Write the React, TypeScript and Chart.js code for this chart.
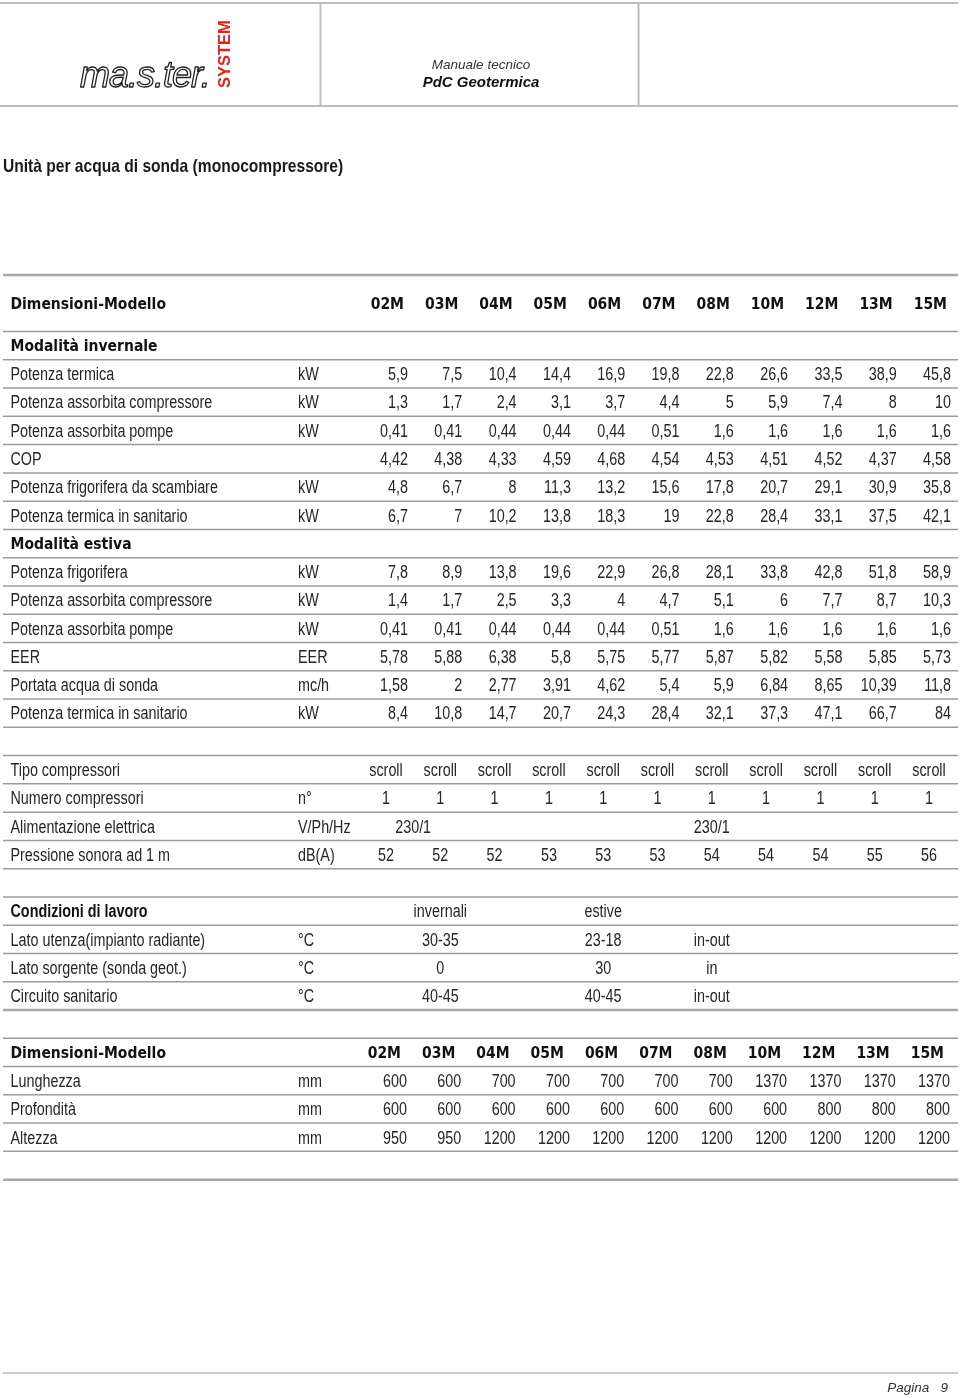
import { useEffect, useRef } from "react";
import { Chart, registerables } from "chart.js";

Chart.register(...registerables);

// ---------------- data ----------------
const TITLE = "Unità per acqua di sonda (monocompressore)";
const MANUAL_LINE_1 = "Manuale tecnico";
const MANUAL_LINE_2 = "PdC Geotermica";
const LOGO_TEXT = "ma.s.ter.";
const LOGO_SUB = "SYSTEM";
const PAGE_LABEL = "Pagina";
const PAGE_NUMBER = 9;

const MODELS = ["02M", "03M", "04M", "05M", "06M", "07M", "08M", "10M", "12M", "13M", "15M"];

const INV_POTENZA_TERMICA = [5.9, 7.5, 10.4, 14.4, 16.9, 19.8, 22.8, 26.6, 33.5, 38.9, 45.8];
const INV_ASSORBITA_COMPRESSORE = [1.3, 1.7, 2.4, 3.1, 3.7, 4.4, 5, 5.9, 7.4, 8, 10];
const INV_ASSORBITA_POMPE = [0.41, 0.41, 0.44, 0.44, 0.44, 0.51, 1.6, 1.6, 1.6, 1.6, 1.6];
const INV_COP = [4.42, 4.38, 4.33, 4.59, 4.68, 4.54, 4.53, 4.51, 4.52, 4.37, 4.58];
const INV_FRIGORIFERA_SCAMBIARE = [4.8, 6.7, 8, 11.3, 13.2, 15.6, 17.8, 20.7, 29.1, 30.9, 35.8];
const INV_TERMICA_SANITARIO = [6.7, 7, 10.2, 13.8, 18.3, 19, 22.8, 28.4, 33.1, 37.5, 42.1];

const EST_POTENZA_FRIGORIFERA = [7.8, 8.9, 13.8, 19.6, 22.9, 26.8, 28.1, 33.8, 42.8, 51.8, 58.9];
const EST_ASSORBITA_COMPRESSORE = [1.4, 1.7, 2.5, 3.3, 4, 4.7, 5.1, 6, 7.7, 8.7, 10.3];
const EST_ASSORBITA_POMPE = [0.41, 0.41, 0.44, 0.44, 0.44, 0.51, 1.6, 1.6, 1.6, 1.6, 1.6];
const EST_EER = [5.78, 5.88, 6.38, 5.8, 5.75, 5.77, 5.87, 5.82, 5.58, 5.85, 5.73];
const EST_PORTATA_SONDA = [1.58, 2, 2.77, 3.91, 4.62, 5.4, 5.9, 6.84, 8.65, 10.39, 11.8];
const EST_TERMICA_SANITARIO = [8.4, 10.8, 14.7, 20.7, 24.3, 28.4, 32.1, 37.3, 47.1, 66.7, 84];

const TIPO_COMPRESSORI = ["scroll", "scroll", "scroll", "scroll", "scroll", "scroll", "scroll", "scroll", "scroll", "scroll", "scroll"];
const NUMERO_COMPRESSORI = [1, 1, 1, 1, 1, 1, 1, 1, 1, 1, 1];
const ALIMENTAZIONE = ["230/1", "230/1"];
const ALIMENTAZIONE_COLS = [0.5, 6];
const PRESSIONE_SONORA = [52, 52, 52, 53, 53, 53, 54, 54, 54, 55, 56];

const CONDIZIONI_HEAD = ["invernali", "estive"];
const CONDIZIONI_HEAD_COLS = [1, 4];
const CONDIZIONI_COLS = [1, 4, 6];
const LATO_UTENZA = ["30-35", "23-18", "in-out"];
const LATO_SORGENTE = ["0", "30", "in"];
const CIRCUITO_SANITARIO = ["40-45", "40-45", "in-out"];

const LUNGHEZZA = [600, 600, 700, 700, 700, 700, 700, 1370, 1370, 1370, 1370];
const PROFONDITA = [600, 600, 600, 600, 600, 600, 600, 600, 800, 800, 800];
const ALTEZZA = [950, 950, 1200, 1200, 1200, 1200, 1200, 1200, 1200, 1200, 1200];

// ---------------- layout constants ----------------
const PAGE_W = 960;
const PAGE_H = 1398;
const ROW_H = 28.27;
const TABLE_TOP = 275; // chart area top
const FOOTER_RULE = 1373; // chart area bottom
const AREA_LEFT = 3;
const AREA_RIGHT = 948;
const COL0 = 386;
const COL_W = 54.3;
const X_MIN = -(COL0 - AREA_LEFT) / COL_W;
const X_MAX = X_MIN + (AREA_RIGHT - AREA_LEFT) / COL_W;
const Y_MAX = (FOOTER_RULE - TABLE_TOP) / ROW_H;
const LABEL_X = 10.5;
const UNIT_X = 298;
const RULE_X0 = 3;
const RULE_X1 = 958;
const TITLE_X = 3;
const TITLE_CY = 165;
const FOOTER_CY = 1388;

type Style = "modelHead" | "section" | "num" | "center" | "condHead" | "cond";
type RowSpec = {
  row: number;
  span?: number;
  label: string;
  unit?: string;
  values?: (number | string)[];
  cols?: number[];
  style: Style;
  off?: number;
};

const ROWS: RowSpec[] = [
  { row: 0, span: 2, label: "Dimensioni-Modello", values: MODELS, style: "modelHead", off: 18 },
  { row: 2, label: "Modalità invernale", style: "section" },
  { row: 3, label: "Potenza termica", unit: "kW", values: INV_POTENZA_TERMICA, style: "num" },
  { row: 4, label: "Potenza assorbita compressore", unit: "kW", values: INV_ASSORBITA_COMPRESSORE, style: "num" },
  { row: 5, label: "Potenza assorbita pompe", unit: "kW", values: INV_ASSORBITA_POMPE, style: "num" },
  { row: 6, label: "COP", values: INV_COP, style: "num" },
  { row: 7, label: "Potenza frigorifera da scambiare", unit: "kW", values: INV_FRIGORIFERA_SCAMBIARE, style: "num" },
  { row: 8, label: "Potenza termica in sanitario", unit: "kW", values: INV_TERMICA_SANITARIO, style: "num" },
  { row: 9, label: "Modalità estiva", style: "section" },
  { row: 10, label: "Potenza frigorifera", unit: "kW", values: EST_POTENZA_FRIGORIFERA, style: "num" },
  { row: 11, label: "Potenza assorbita compressore", unit: "kW", values: EST_ASSORBITA_COMPRESSORE, style: "num" },
  { row: 12, label: "Potenza assorbita pompe", unit: "kW", values: EST_ASSORBITA_POMPE, style: "num" },
  { row: 13, label: "EER", unit: "EER", values: EST_EER, style: "num" },
  { row: 14, label: "Portata acqua di sonda", unit: "mc/h", values: EST_PORTATA_SONDA, style: "num" },
  { row: 15, label: "Potenza termica in sanitario", unit: "kW", values: EST_TERMICA_SANITARIO, style: "num" },

  { row: 17, label: "Tipo compressori", values: TIPO_COMPRESSORI, style: "center" },
  { row: 18, label: "Numero compressori", unit: "n°", values: NUMERO_COMPRESSORI, style: "center" },
  { row: 19, label: "Alimentazione elettrica", unit: "V/Ph/Hz", values: ALIMENTAZIONE, cols: ALIMENTAZIONE_COLS, style: "center" },
  { row: 20, label: "Pressione sonora ad 1 m", unit: "dB(A)", values: PRESSIONE_SONORA, style: "center" },

  { row: 22, label: "Condizioni di lavoro", values: CONDIZIONI_HEAD, cols: CONDIZIONI_HEAD_COLS, style: "condHead" },
  { row: 23, label: "Lato utenza(impianto radiante)", unit: "°C", values: LATO_UTENZA, cols: CONDIZIONI_COLS, style: "cond" },
  { row: 24, label: "Lato sorgente (sonda geot.)", unit: "°C", values: LATO_SORGENTE, cols: CONDIZIONI_COLS, style: "cond" },
  { row: 25, label: "Circuito sanitario", unit: "°C", values: CIRCUITO_SANITARIO, cols: CONDIZIONI_COLS, style: "cond" },

  { row: 27, label: "Dimensioni-Modello", values: MODELS, style: "modelHead", off: 15 },
  { row: 28, label: "Lunghezza", unit: "mm", values: LUNGHEZZA, style: "num", off: 21 },
  { row: 29, label: "Profondità", unit: "mm", values: PROFONDITA, style: "num", off: 21 },
  { row: 30, label: "Altezza", unit: "mm", values: ALTEZZA, style: "num", off: 21 },
];

// rule lines: [row boundary, thick?]
const RULES: [number, boolean][] = [
  [0, true], [2, false], [3, false], [4, false], [5, false], [6, false], [7, false], [8, false],
  [9, false], [10, false], [11, false], [12, false], [13, false], [14, false], [15, false], [16, false],
  [17, false], [18, false], [19, false], [20, false], [21, false],
  [22, false], [23, false], [24, false], [25, false], [26, true],
  [27, false], [28, false], [29, false], [30, false], [31, false], [32, true],
];

// ---------------- helpers ----------------
type FontSpec = { css: string; squeeze: number; cap: number; color: string };

function hasFont(name: string): boolean {
  const c = document.createElement("canvas").getContext("2d")!;
  const s = "Potenza assorbita compressore 0123456789";
  c.font = "20px monospace";
  const a = c.measureText(s).width;
  c.font = `20px "${name}", monospace`;
  const b = c.measureText(s).width;
  return Math.abs(a - b) > 0.5;
}

function makeFonts(narrow: boolean) {
  const fam = narrow ? '"Liberation Sans Narrow"' : '"Liberation Sans"';
  const sq = narrow ? 1 : 0.82;
  return {
    reg: { css: `17.5px ${fam}`, squeeze: sq, cap: 0.716 * 17.5, color: "#262626" } as FontSpec,
    narrowBold: { css: `bold 17.5px ${fam}`, squeeze: sq, cap: 0.716 * 17.5, color: "#111" } as FontSpec,
    title: { css: `bold 19px ${fam}`, squeeze: sq, cap: 0.716 * 19, color: "#1a1a1a" } as FontSpec,
    head: { css: 'bold 15.5px "DejaVu Sans Condensed", "DejaVu Sans"', squeeze: 1, cap: 0.729 * 15.5, color: "#111" } as FontSpec,
  };
}

function fmt(v: number | string): string {
  return typeof v === "number" ? String(v).replace(".", ",") : v;
}

function drawText(ctx: CanvasRenderingContext2D, text: string, x: number, yCenter: number, f: FontSpec, align: CanvasTextAlign) {
  ctx.save();
  ctx.font = f.css;
  ctx.fillStyle = f.color;
  ctx.textAlign = align;
  ctx.textBaseline = "alphabetic";
  const y = yCenter + f.cap / 2;
  ctx.translate(x, y);
  if (f.squeeze !== 1) ctx.scale(f.squeeze, 1);
  ctx.fillText(text, 0, 0);
  ctx.restore();
}

function drawPageHeader(ctx: CanvasRenderingContext2D) {
  ctx.save();
  ctx.strokeStyle = "#bdbdbd";
  ctx.lineWidth = 2;
  ctx.beginPath();
  ctx.moveTo(0, 3); ctx.lineTo(958, 3);
  ctx.moveTo(0, 106); ctx.lineTo(958, 106);
  ctx.moveTo(320.5, 3); ctx.lineTo(320.5, 106);
  ctx.moveTo(638.5, 3); ctx.lineTo(638.5, 106);
  ctx.stroke();

  // logo
  ctx.font = 'italic 36px "Liberation Sans"';
  (ctx as any).letterSpacing = "-1px";
  ctx.textAlign = "left";
  ctx.textBaseline = "alphabetic";
  ctx.fillStyle = "#ffffff";
  ctx.strokeStyle = "#222";
  ctx.lineWidth = 1.3;
  ctx.lineJoin = "round";
  ctx.fillText(LOGO_TEXT, 80, 87);
  ctx.strokeText(LOGO_TEXT, 80, 87);
  (ctx as any).letterSpacing = "0px";

  ctx.save();
  ctx.translate(229.5, 88);
  ctx.rotate(-Math.PI / 2);
  ctx.font = 'bold 16.5px "Liberation Sans"';
  ctx.fillStyle = "#e2231a";
  ctx.fillText(LOGO_SUB, 0, 0);
  ctx.restore();

  ctx.textAlign = "center";
  ctx.fillStyle = "#333";
  ctx.font = 'italic 13.5px "Liberation Sans"';
  ctx.fillText(MANUAL_LINE_1, 481, 69);
  ctx.fillStyle = "#111";
  ctx.font = 'italic bold 15px "Liberation Sans"';
  ctx.fillText(MANUAL_LINE_2, 481, 86.5);
  ctx.restore();
}

function buildDatasets() {
  return ROWS.filter((r) => r.values && r.values.length).map((r) => {
    const span = r.span ?? 1;
    return {
      label: r.label,
      data: r.values!.map((_, j) => ({ x: r.cols ? r.cols[j] : j, y: r.row + span / 2 })),
      texts: r.values!.map(fmt),
      cellStyle: r.style,
      cellOff: r.off ?? 22,
      pointRadius: 0,
      pointHoverRadius: 0,
      showLine: false,
    };
  });
}

export default function App() {
  const ref = useRef<HTMLCanvasElement>(null);

  useEffect(() => {
    document.body.style.margin = "0";
    const canvas = ref.current!;
    const narrow = hasFont("Liberation Sans Narrow");
    const fonts = makeFonts(narrow);
    const subSize = 13.5;
    const subPadBottom = PAGE_H - FOOTER_CY - subSize * 0.6;
    const subPadTop = PAGE_H - FOOTER_RULE - subSize * 1.2 - subPadBottom;

    const tablePlugin = {
      id: "pageTable",
      beforeDraw(chart: any) {
        const ctx: CanvasRenderingContext2D = chart.ctx;
        ctx.save();
        ctx.fillStyle = "#ffffff";
        ctx.fillRect(0, 0, chart.width, chart.height);
        ctx.restore();
        drawPageHeader(ctx);
        drawText(ctx, TITLE, TITLE_X, TITLE_CY, fonts.title, "left");
      },
      afterDatasetsDraw(chart: any) {
        const ctx: CanvasRenderingContext2D = chart.ctx;
        const y = chart.scales.y;
        // rules
        ctx.save();
        RULES.forEach(([b, thick]) => {
          const py = y.getPixelForValue(b);
          ctx.beginPath();
          ctx.strokeStyle = thick ? "#a8a8a8" : "#9c9c9c";
          ctx.lineWidth = thick ? 2.5 : 1.5;
          ctx.moveTo(RULE_X0, py);
          ctx.lineTo(RULE_X1, py);
          ctx.stroke();
        });
        // footer rule
        ctx.beginPath();
        ctx.strokeStyle = "#bdbdbd";
        ctx.lineWidth = 1.5;
        ctx.moveTo(RULE_X0, chart.chartArea.bottom);
        ctx.lineTo(RULE_X1, chart.chartArea.bottom);
        ctx.stroke();
        ctx.restore();

        // row labels and units
        ROWS.forEach((r) => {
          const cy = y.getPixelForValue(r.row + (r.span ?? 1) / 2);
          const lf = r.style === "modelHead" || r.style === "section" ? fonts.head : r.style === "condHead" ? fonts.narrowBold : fonts.reg;
          drawText(ctx, r.label, LABEL_X, cy, lf, "left");
          if (r.unit) drawText(ctx, r.unit, UNIT_X, cy, fonts.reg, "left");
        });

        // cells
        chart.data.datasets.forEach((ds: any, i: number) => {
          const meta = chart.getDatasetMeta(i);
          meta.data.forEach((el: any, j: number) => {
            const t = ds.texts[j];
            if (ds.cellStyle === "modelHead") drawText(ctx, t, el.x + ds.cellOff, el.y, fonts.head, "right");
            else if (ds.cellStyle === "num") drawText(ctx, t, el.x + ds.cellOff, el.y, fonts.reg, "right");
            else drawText(ctx, t, el.x, el.y, fonts.reg, "center");
          });
        });
      },
    };

    const chart = new Chart(canvas, {
      type: "scatter",
      data: { datasets: buildDatasets() as any },
      options: {
        responsive: false,
        animation: false,
        devicePixelRatio: 1,
        events: [],
        layout: { padding: { top: TABLE_TOP, left: AREA_LEFT, right: PAGE_W - AREA_RIGHT, bottom: 0 } },
        scales: {
          x: { type: "linear", min: X_MIN, max: X_MAX, bounds: "data", display: false },
          y: { type: "linear", min: 0, max: Y_MAX, reverse: true, bounds: "data", display: false },
        },
        plugins: {
          legend: { display: false },
          tooltip: { enabled: false },
          title: { display: false },
          subtitle: {
            display: true,
            position: "bottom",
            align: "end",
            text: `${PAGE_LABEL}   ${PAGE_NUMBER}`,
            color: "#333",
            font: { family: "Liberation Sans", size: subSize, style: "italic", weight: "normal", lineHeight: 1.2 },
            padding: { top: subPadTop, bottom: subPadBottom },
          },
        },
      } as any,
      plugins: [tablePlugin],
    });
    return () => chart.destroy();
  }, []);

  return <canvas ref={ref} width={PAGE_W} height={PAGE_H} style={{ display: "block" }} />;
}
